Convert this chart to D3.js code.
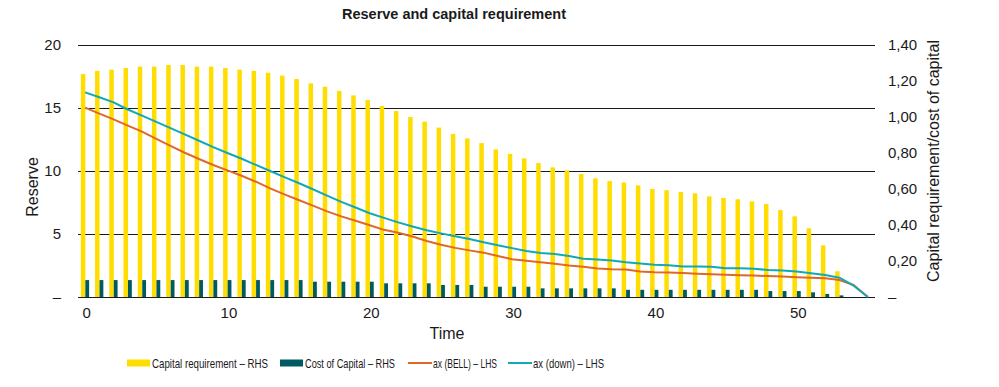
<!DOCTYPE html>
<html>
<head>
<meta charset="utf-8">
<script src="https://cdn.jsdelivr.net/npm/d3@7"></script>
<style>
  html, body { margin: 0; padding: 0; background: #fff; }
  svg { display: block; }
</style>
</head>
<body>
<div id="chart"></div>
<script>
// ---------- data ----------
const times = d3.range(56);
const capitalRequirement = [1.239,1.256,1.263,1.272,1.280,1.280,1.289,1.289,1.280,1.280,
  1.272,1.263,1.256,1.246,1.230,1.211,1.187,1.168,1.145,1.120,
  1.094,1.061,1.033,1.000,0.974,0.941,0.906,0.881,0.855,0.820,
  0.795,0.770,0.744,0.720,0.704,0.683,0.659,0.644,0.636,0.620,
  0.600,0.593,0.583,0.576,0.559,0.550,0.543,0.531,0.517,0.483,
  0.448,0.382,0.287,0.143,0,0];
const costOfCapital = [0.094,0.094,0.094,0.094,0.094,0.094,0.094,0.094,0.094,0.094,
  0.094,0.094,0.094,0.094,0.094,0.094,0.085,0.085,0.085,0.085,
  0.085,0.076,0.076,0.076,0.076,0.067,0.067,0.067,0.057,0.057,
  0.057,0.057,0.048,0.048,0.048,0.048,0.048,0.048,0.040,0.040,
  0.040,0.040,0.040,0.040,0.040,0.040,0.040,0.040,0.033,0.033,
  0.033,0.026,0.017,0.009,0,0];
const axBell = [15.03,14.55,14.10,13.60,13.12,12.55,12.00,11.45,10.95,10.48,
  10.05,9.62,9.15,8.62,8.15,7.70,7.25,6.80,6.40,6.05,
  5.70,5.33,5.10,4.80,4.45,4.15,3.90,3.70,3.52,3.25,
  3.00,2.88,2.75,2.63,2.50,2.40,2.27,2.20,2.18,2.03,
  1.97,1.95,1.90,1.85,1.80,1.76,1.72,1.70,1.66,1.62,
  1.57,1.52,1.48,1.35,0.95,0];
const axDown = [16.24,15.85,15.45,14.88,14.40,13.90,13.40,12.90,12.40,11.90,
  11.43,10.97,10.48,10.00,9.52,9.05,8.55,8.05,7.55,7.10,
  6.65,6.28,5.92,5.60,5.30,5.05,4.82,4.60,4.35,4.10,
  3.88,3.65,3.50,3.42,3.25,3.03,2.97,2.90,2.76,2.65,
  2.56,2.52,2.42,2.42,2.40,2.28,2.28,2.25,2.14,2.10,
  2.02,1.88,1.75,1.53,0.90,0];
const leftTicks = [0, 5, 10, 15, 20];
const rightTicks = [0, 0.2, 0.4, 0.6, 0.8, 1.0, 1.2, 1.4];
const xTicks = [0, 10, 20, 30, 40, 50];
const seriesNames = ["Capital requirement \u2013 RHS", "Cost of Capital \u2013 RHS", "ax (BELL) \u2013 LHS", "ax (down) \u2013 LHS"];
const seriesColors = ["#FFDD00", "#005A62", "#E0672A", "#12A8B6"];

// ---------- layout ----------
const W = 999, H = 387;
const plot = { left: 78, right: 875, top: 45, bottom: 297 };
const FONT = "'Liberation Sans', Arial, sans-serif";

const svg = d3.select("#chart").append("svg").attr("width", W).attr("height", H);

const x = d3.scaleBand().domain(times).range([plot.left, plot.right]).paddingInner(0).paddingOuter(0);
const cx = t => x(t) + x.bandwidth() / 2;
const yL = d3.scaleLinear().domain([0, 20]).range([plot.bottom, plot.top]);
const yR = d3.scaleLinear().domain([0, 1.4]).range([plot.bottom, plot.top]);

// title
svg.append("text").attr("x", 454).attr("y", 19).attr("text-anchor", "middle")
  .attr("font-family", FONT).attr("font-weight", "bold").attr("font-size", 14.5)
  .attr("fill", "#1a1a1a").text("Reserve and capital requirement");

// gridlines (left axis)
svg.append("g").selectAll("line").data(leftTicks.filter(d => d > 0)).join("line")
  .attr("x1", plot.left).attr("x2", plot.right)
  .attr("y1", d => Math.round(yL(d)) + 0.5).attr("y2", d => Math.round(yL(d)) + 0.5)
  .attr("stroke", "#1a1a1a").attr("stroke-width", 1);

// bars
svg.append("g").selectAll("rect").data(times).join("rect")
  .attr("x", t => cx(t) - 4.3).attr("width", 4.5)
  .attr("y", t => yR(capitalRequirement[t])).attr("height", t => yR(0) - yR(capitalRequirement[t]))
  .attr("fill", seriesColors[0]);
svg.append("g").selectAll("rect").data(times).join("rect")
  .attr("x", t => cx(t) + 0.2).attr("width", 3.8)
  .attr("y", t => yR(costOfCapital[t])).attr("height", t => yR(0) - yR(costOfCapital[t]))
  .attr("fill", seriesColors[1]);

// baseline
svg.append("line").attr("x1", plot.left).attr("x2", plot.right)
  .attr("y1", plot.bottom + 0.5).attr("y2", plot.bottom + 0.5)
  .attr("stroke", "#1a1a1a").attr("stroke-width", 1);

// lines
const lineL = d3.line().x(t => cx(t));
[[axBell, seriesColors[2]], [axDown, seriesColors[3]]].forEach(([vals, col]) => {
  svg.append("path").datum(times)
    .attr("d", lineL.y(t => yL(vals[t])))
    .attr("fill", "none").attr("stroke", col).attr("stroke-width", 2)
    .attr("stroke-linejoin", "round");
});

// left axis labels
const fmtL = d => d === 0 ? "\u2013" : String(d);
svg.append("g").selectAll("text").data(leftTicks).join("text")
  .attr("x", 61).attr("y", d => yL(d)).attr("dy", "0.35em").attr("text-anchor", "end")
  .attr("font-family", FONT).attr("font-size", 15).attr("fill", "#1a1a1a").text(fmtL);

// right axis labels
const fmtR = d => d === 0 ? "\u2013" : d3.format(".2f")(d).replace(".", ",");
svg.append("g").selectAll("text").data(rightTicks).join("text")
  .attr("x", 888).attr("y", d => yR(d)).attr("dy", "0.35em").attr("text-anchor", "start")
  .attr("font-family", FONT).attr("font-size", 15).attr("fill", "#1a1a1a").text(fmtR);

// x axis labels
svg.append("g").selectAll("text").data(xTicks).join("text")
  .attr("x", t => cx(t) + 1.5).attr("y", 313).attr("dy", "0.35em").attr("text-anchor", "middle")
  .attr("font-family", FONT).attr("font-size", 15).attr("fill", "#1a1a1a").text(d => d);

// axis titles
svg.append("text").attr("x", 447).attr("y", 333).attr("dy", "0.35em").attr("text-anchor", "middle")
  .attr("font-family", FONT).attr("font-size", 16).attr("fill", "#1a1a1a").text("Time");
svg.append("text").attr("transform", "translate(32,187) rotate(-90)").attr("dy", "0.35em")
  .attr("text-anchor", "middle").attr("font-family", FONT).attr("font-size", 16)
  .attr("fill", "#1a1a1a").text("Reserve");
svg.append("text").attr("transform", "translate(933,161) rotate(-90)").attr("dy", "0.35em")
  .attr("text-anchor", "middle").attr("font-family", FONT).attr("font-size", 16)
  .attr("fill", "#1a1a1a").text("Capital requirement/cost of capital");

// legend
const legendX = [127, 280, 408, 508];
const legendTextW = [116, 90, 64, 71];
const lg = svg.append("g");
seriesNames.forEach((name, i) => {
  const g = lg.append("g").attr("transform", `translate(${legendX[i]},363)`);
  if (i < 2) {
    g.append("rect").attr("x", 0).attr("y", -3.5).attr("width", 23).attr("height", 7).attr("fill", seriesColors[i]);
  } else {
    g.append("line").attr("x1", 0).attr("x2", 24).attr("y1", 0).attr("y2", 0)
      .attr("stroke", seriesColors[i]).attr("stroke-width", 2);
  }
  g.append("text").attr("x", 25).attr("y", 0).attr("dy", "0.35em")
    .attr("font-family", FONT).attr("font-size", 13.5)
    .attr("textLength", legendTextW[i]).attr("lengthAdjust", "spacingAndGlyphs")
    .attr("fill", "#1a1a1a").text(name);
});
</script>
</body>
</html>
